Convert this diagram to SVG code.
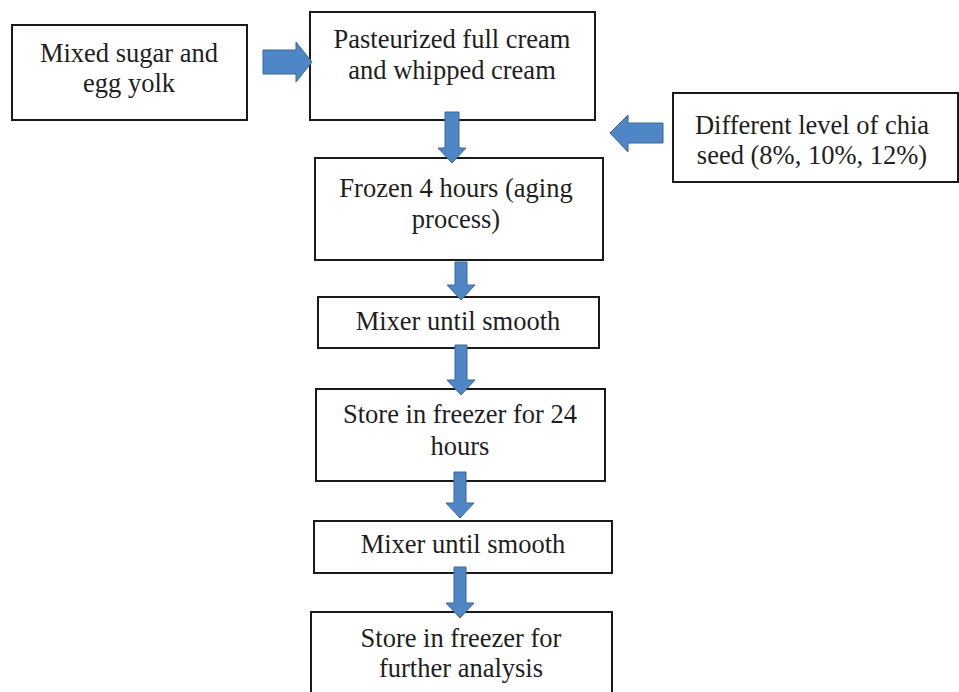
<svg xmlns="http://www.w3.org/2000/svg" width="959" height="692" viewBox="0 0 959 692">
<style>
.box{fill:#fff;stroke:#1a1a1a;stroke-width:2}
.arr{fill:#4f86c6;stroke:#3b6797;stroke-width:1}
</style>
<rect width="959" height="692" fill="#fff"/>
<g fill="#1e1e1e" text-anchor="middle" font-family="Liberation Serif, serif" font-size="26.5">
<g id="n1"><rect class="box" x="12" y="25" width="235" height="95"/><text x="129" y="62">Mixed sugar and</text><text x="129" y="92">egg yolk</text></g>
<g id="n2"><rect class="box" x="310" y="12" width="285" height="108"/><text x="452" y="48">Pasteurized full cream</text><text x="452" y="79">and whipped cream</text></g>
<g id="n3"><rect class="box" x="673" y="93" width="285" height="89"/><text x="812" y="134">Different level of chia</text><text x="812" y="164">seed (8%, 10%, 12%)</text></g>
<g id="n4"><rect class="box" x="315" y="158" width="288" height="102"/><text x="456" y="197">Frozen 4 hours (aging</text><text x="456" y="228">process)</text></g>
<g id="n5"><rect class="box" x="318" y="297" width="281" height="51"/><text x="458" y="330">Mixer until smooth</text></g>
<g id="n6"><rect class="box" x="316" y="389" width="289" height="92"/><text x="460" y="423">Store in freezer for 24</text><text x="460" y="455">hours</text></g>
<g id="n7"><rect class="box" x="314" y="521" width="298" height="52"/><text x="463" y="553">Mixer until smooth</text></g>
<g id="n8"><rect class="box" x="311" y="612" width="301" height="90"/><text x="461" y="647">Store in freezer for</text><text x="461" y="677">further analysis</text></g>
</g>
<g id="connectors">
<path class="arr" d="M263,50 H296 V42 L312,62 L296,82 V74 H263 Z"/>
<path class="arr" d="M663,123 H628 V115 L610,133 L628,152 V143 H663 Z"/>
<path class="arr" d="M445,112 H459 V148 H466 L452,163 L438,148 H445 Z"/>
<path class="arr" d="M455,262 H467 V285 H475 L461,300 L447,285 H455 Z"/>
<path class="arr" d="M455,345 H467 V380 H475 L461,395 L447,380 H455 Z"/>
<path class="arr" d="M454,472 H466 V503 H474 L460,518 L446,503 H454 Z"/>
<path class="arr" d="M454,567 H466 V603 H474 L460,618 L446,603 H454 Z"/>
</g>
</svg>
